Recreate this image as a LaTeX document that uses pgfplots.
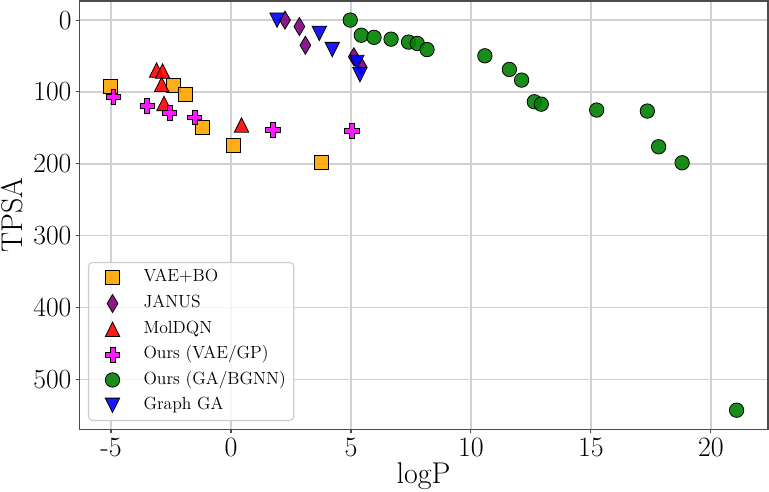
\documentclass[border=0pt]{standalone}
\usepackage{pgfplots}
\pgfplotsset{compat=1.18}

\definecolor{cOrange}{HTML}{FFA500}
\definecolor{cPurple}{HTML}{800080}
\definecolor{cRed}{HTML}{FF0000}
\definecolor{cMagenta}{HTML}{FF00FF}
\definecolor{cGreen}{HTML}{008000}
\definecolor{cBlue}{HTML}{0000FF}

% marker shapes
\pgfdeclareplotmark{msquare}{%
  \pgfpathrectangle{\pgfqpoint{-\pgfplotmarksize}{-\pgfplotmarksize}}{\pgfqpoint{2\pgfplotmarksize}{2\pgfplotmarksize}}%
  \pgfusepathqfillstroke}
\pgfdeclareplotmark{mtriup}{%
  \pgfpathmoveto{\pgfqpoint{0pt}{\pgfplotmarksize}}%
  \pgfpathlineto{\pgfqpoint{-\pgfplotmarksize}{-\pgfplotmarksize}}%
  \pgfpathlineto{\pgfqpoint{\pgfplotmarksize}{-\pgfplotmarksize}}%
  \pgfpathclose\pgfusepathqfillstroke}
\pgfdeclareplotmark{mtridown}{%
  \pgfpathmoveto{\pgfqpoint{0pt}{-\pgfplotmarksize}}%
  \pgfpathlineto{\pgfqpoint{-\pgfplotmarksize}{\pgfplotmarksize}}%
  \pgfpathlineto{\pgfqpoint{\pgfplotmarksize}{\pgfplotmarksize}}%
  \pgfpathclose\pgfusepathqfillstroke}
\pgfdeclareplotmark{mthindiamond}{%
  \pgfpathmoveto{\pgfqpoint{0pt}{\pgfplotmarksize}}%
  \pgfpathlineto{\pgfqpoint{0.6\pgfplotmarksize}{0pt}}%
  \pgfpathlineto{\pgfqpoint{0pt}{-\pgfplotmarksize}}%
  \pgfpathlineto{\pgfqpoint{-0.6\pgfplotmarksize}{0pt}}%
  \pgfpathclose\pgfusepathqfillstroke}
\pgfdeclareplotmark{mplus}{%
  \pgfpathmoveto{\pgfqpoint{-0.3333\pgfplotmarksize}{\pgfplotmarksize}}%
  \pgfpathlineto{\pgfqpoint{0.3333\pgfplotmarksize}{\pgfplotmarksize}}%
  \pgfpathlineto{\pgfqpoint{0.3333\pgfplotmarksize}{0.3333\pgfplotmarksize}}%
  \pgfpathlineto{\pgfqpoint{\pgfplotmarksize}{0.3333\pgfplotmarksize}}%
  \pgfpathlineto{\pgfqpoint{\pgfplotmarksize}{-0.3333\pgfplotmarksize}}%
  \pgfpathlineto{\pgfqpoint{0.3333\pgfplotmarksize}{-0.3333\pgfplotmarksize}}%
  \pgfpathlineto{\pgfqpoint{0.3333\pgfplotmarksize}{-\pgfplotmarksize}}%
  \pgfpathlineto{\pgfqpoint{-0.3333\pgfplotmarksize}{-\pgfplotmarksize}}%
  \pgfpathlineto{\pgfqpoint{-0.3333\pgfplotmarksize}{-0.3333\pgfplotmarksize}}%
  \pgfpathlineto{\pgfqpoint{-\pgfplotmarksize}{-0.3333\pgfplotmarksize}}%
  \pgfpathlineto{\pgfqpoint{-\pgfplotmarksize}{0.3333\pgfplotmarksize}}%
  \pgfpathlineto{\pgfqpoint{-0.3333\pgfplotmarksize}{0.3333\pgfplotmarksize}}%
  \pgfpathclose\pgfusepathqfillstroke}

\pgfplotsset{
  pts/.style={only marks,
    mark options={draw=black, line width=0.6pt, fill=#1, fill opacity=0.9},
    legend image code/.code={%
      \path[draw=none, fill=none] (0pt,0pt) -- (24pt,0pt);
      \draw[##1] plot coordinates {(12pt,0pt)};}},
}

\begin{document}
\begin{tikzpicture}
\begin{axis}[
  scale only axis, width=516.5pt, height=321.2pt,
  xmin=-6.32, xmax=22.375, ymin=-26.5, ymax=569.6, y dir=reverse,
  xtick={-5,0,5,10,15,20}, xticklabels={{-5},0,5,10,15,20},
  ytick={0,100,200,300,400,500},
  xtick pos=bottom, ytick pos=left,
  grid=major, major grid style={line width=1.1pt, color=black!18},
  axis line style={line width=1pt, black!70},
  tick align=outside, major tick length=2.6pt,
  tick style={line width=0.8pt, black!70},
  tick label style={font=\fontsize{21}{25}\selectfont, inner sep=0pt},
  xticklabel shift=4pt, yticklabel shift=3.1pt,
  xlabel={logP}, ylabel={TPSA},
  label style={font=\fontsize{22.5}{27}\selectfont, inner sep=0pt},
  xlabel style={at={([yshift=-40.5pt]axis description cs:0.5,0)}, anchor=base},
  ylabel style={at={([xshift=-42.2pt]axis description cs:0,0.5)}, anchor=south, rotate=0},
  legend cell align=left,
  legend style={at={(axis description cs:0,0)}, anchor=south west,
    xshift=6.5pt, yshift=6.2pt, draw=black!20, line width=0.8pt,
    rounded corners=3pt, fill=white, fill opacity=0.8, text opacity=1,
    inner xsep=6pt, inner ysep=5pt,
    font=\fontsize{13.2}{15}\selectfont,
    nodes={inner sep=0pt, text height=9.5pt, text depth=3.3pt},
    row sep=6.2pt,
    /tikz/every odd column/.append style={column sep=11.25pt},
    /tikz/every even column/.append style={column sep=0pt}},
]

% VAE+BO
\addplot[pts=cOrange, mark=msquare, mark size=5.25pt] coordinates {
  (-5.04,92) (-2.40,91.5) (-1.89,104) (-1.21,149) (0.08,174) (3.78,198)
};
\addlegendentry{VAE+BO}

% JANUS
\addplot[pts=cPurple, mark=mthindiamond, mark size=6.75pt] coordinates {
  (2.25,0) (2.85,9) (3.10,35) (5.12,51) (5.42,64)
};
\addlegendentry{JANUS}

% MolDQN
\addplot[pts=cRed, mark=mtriup, mark size=5.4pt] coordinates {
  (-3.10,69.6) (-2.85,71) (-2.89,89.5) (-2.79,116) (0.44,146)
};
\addlegendentry{MolDQN}

% Ours (VAE/GP)
\addplot[pts=cMagenta, mark=mplus, mark size=5.5pt] coordinates {
  (-4.90,107) (-3.49,119) (-2.56,129) (-1.52,135.5) (1.76,153) (5.03,154)
};
\addlegendentry{Ours (VAE/GP)}

% Ours (GA/BGNN)
\addplot[pts=cGreen, mark=*, mark size=5.4pt] coordinates {
  (4.97,0) (5.43,21) (5.96,24) (6.67,26.5) (7.40,30.6) (7.76,32.5) (8.17,41)
  (10.58,49.7) (11.60,68.7) (12.11,83.5) (12.64,113.7) (12.93,117)
  (15.24,125.2) (17.35,126.6) (17.82,176.3) (18.80,198.6) (21.07,543)
};
\addlegendentry{Ours (GA/BGNN)}

% Graph GA
\addplot[pts=cBlue, mark=mtridown, mark size=5.4pt] coordinates {
  (1.92,0) (3.68,18.5) (4.22,41) (5.24,59) (5.375,76)
};
\addlegendentry{Graph GA}

\end{axis}
\pgfresetboundingbox
\path (-59.5pt,-47pt) rectangle (517.3pt,322pt);
\end{tikzpicture}
\end{document}
